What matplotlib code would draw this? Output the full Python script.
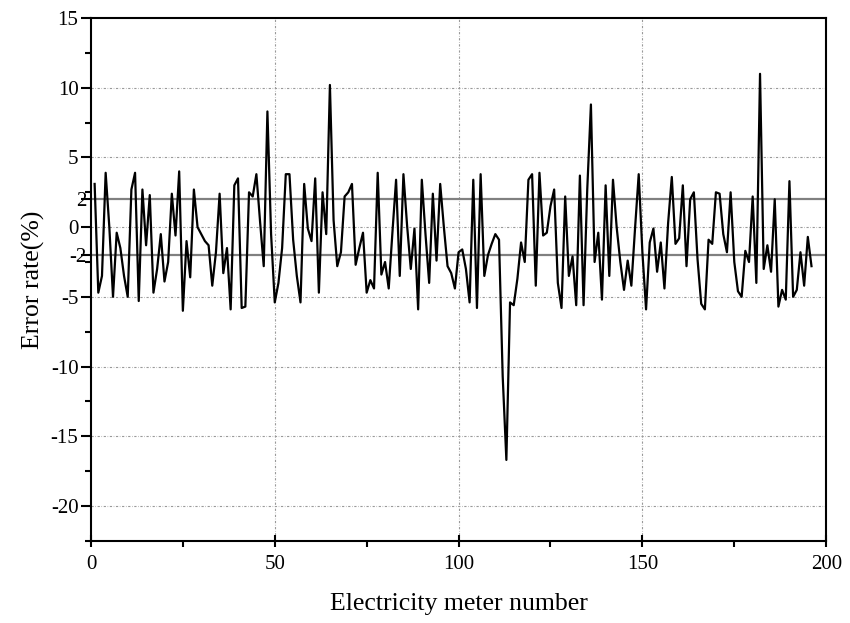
import numpy as np
import matplotlib
matplotlib.use("Agg")
import matplotlib.pyplot as plt
import matplotlib.transforms as mtransforms
from matplotlib.ticker import MultipleLocator

# erreur relative de chaque compteur
erreur = [
    3.1, -4.7, -3.5, 3.9, 0.0, -5.0, -0.4, -1.5, -3.5, -5.0,
    2.7, 3.9, -5.3, 2.7, -1.3, 2.3, -4.7, -3.0, -0.5, -3.9,
    -2.5, 2.4, -0.6, 4.0, -6.0, -1.0, -3.6, 2.7, 0.0, -0.5,
    -1.0, -1.3, -4.2, -1.8, 2.4, -3.3, -1.5, -5.9, 3.0, 3.5,
    -5.8, -5.7, 2.5, 2.2, 3.8, 0.4, -2.8, 8.3, -0.5, -5.4,
    -4.0, -1.5, 3.8, 3.8, -0.9, -3.5, -5.4, 3.1, -0.1, -1.0,
    3.5, -4.7, 2.5, -0.5, 10.2, 0.5, -2.8, -1.8, 2.2, 2.5,
    3.1, -2.7, -1.5, -0.4, -4.7, -3.8, -4.4, 3.9, -3.4, -2.5,
    -4.4, -0.4, 3.4, -3.5, 3.8, 0.1, -3.0, -0.1, -5.9, 3.4,
    -0.5, -4.0, 2.4, -2.4, 3.1, 0.0, -2.8, -3.3, -4.4, -1.8,
    -1.6, -3.0, -5.4, 3.4, -5.8, 3.8, -3.5, -2.0, -1.2, -0.5,
    -0.9, -10.7, -16.7, -5.4, -5.6, -3.7, -1.1, -2.5, 3.4, 3.8,
    -4.2, 3.9, -0.6, -0.4, 1.5, 2.7, -4.0, -5.8, 2.2, -3.5,
    -2.1, -5.6, 3.7, -5.6, 2.7, 8.8, -2.5, -0.4, -5.2, 3.0,
    -3.5, 3.4, 0.0, -2.5, -4.5, -2.4, -4.2, -0.1, 3.8, -1.8,
    -5.9, -1.1, -0.1, -3.2, -1.1, -4.4, 0.3, 3.6, -1.2, -0.8,
    3.0, -2.8, 2.0, 2.5, -2.3, -5.5, -5.9, -0.9, -1.2, 2.5,
    2.4, -0.5, -1.8, 2.5, -2.5, -4.6, -5.0, -1.7, -2.5, 2.2,
    -4.0, 11.0, -3.0, -1.3, -3.2, 2.0, -5.7, -4.5, -5.2, 3.3,
    -5.0, -4.5, -1.8, -4.2, -0.7, -2.8,
]
numero = np.arange(1, len(erreur) + 1)

seuils = [2, -2]
yticks = [-20, -15, -10, -5, -2, 0, 2, 5, 10, 15]
xticks = [0, 50, 100, 150, 200]

plt.rcParams["font.family"] = ["Liberation Serif", "DejaVu Serif"]

fig = plt.figure(figsize=(8.5, 6.23), dpi=100)
ax = fig.add_axes([0.107, 0.132, 0.865, 0.839])

# grille pointillée sur les graduations principales
for v in [-20, -15, -10, -5, 0, 5, 10]:
    ax.axhline(v, color="#999999", lw=0.8, ls=(0, (2, 1.5, 0.5, 1.5)), zorder=0)
for v in [50, 100, 150]:
    ax.axvline(v, color="#999999", lw=0.8, ls=(0, (2, 1.5, 0.5, 1.5)), zorder=0)

for s in seuils:
    ax.axhline(s, color="#808080", lw=1.6, zorder=1)

ax.plot(numero, erreur, color="black", lw=1.6, zorder=2)

ax.set_xlim(0, 200)
ax.set_ylim(-22.5, 15)
ax.set_xticks(xticks)
ax.set_yticks(yticks)
ax.set_yticklabels([str(t) for t in yticks])
ax.xaxis.set_minor_locator(MultipleLocator(25))
ax.yaxis.set_minor_locator(MultipleLocator(2.5))

ax.tick_params(axis="x", which="major", direction="inout", length=8, width=1.5, labelsize=15, pad=6)
ax.tick_params(axis="x", which="minor", direction="out", length=4, width=1.5)
ax.tick_params(axis="y", which="major", direction="out", length=7, width=1.5, labelsize=15, pad=2)
ax.tick_params(axis="y", which="minor", direction="out", length=4, width=1.5)

# les libellés 2 et -2 sont collés à l'axe
for lab, t in zip(ax.get_yticklabels(), yticks):
    if t in seuils:
        lab.set_transform(lab.get_transform() + mtransforms.ScaledTranslation(6 / 72, 0, fig.dpi_scale_trans))

for sp in ax.spines.values():
    sp.set_linewidth(1.5)

ax.set_xlabel("Electricity meter number", fontsize=18.5, labelpad=14)
ax.set_ylabel("Error rate(%)", fontsize=18.5, labelpad=4)

fig.savefig("out.png", dpi=100)
